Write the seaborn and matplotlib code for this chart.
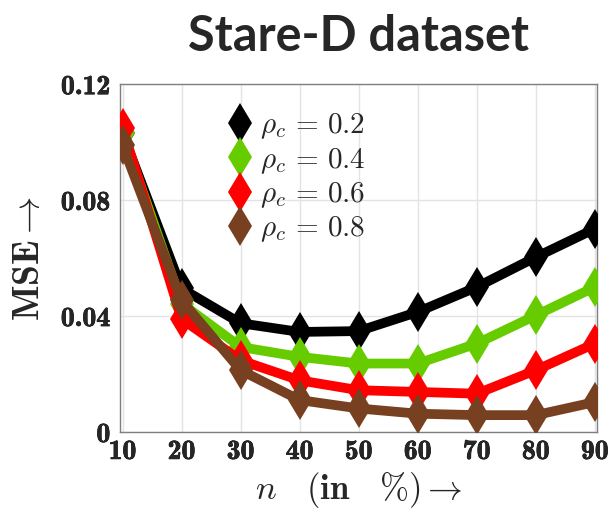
import os
import numpy as np
import pandas as pd
import matplotlib
matplotlib.use("Agg")
import matplotlib.pyplot as plt
import matplotlib.patheffects as pe
from matplotlib.font_manager import FontProperties
from matplotlib.lines import Line2D
import seaborn as sns

# data
n_values = [10, 20, 30, 40, 50, 60, 70, 80, 90]
rho_labels = ["0.2", "0.4", "0.6", "0.8"]
mse_rho02 = [0.103, 0.0495, 0.0375, 0.0345, 0.0348, 0.0414, 0.0500, 0.0603, 0.0701]
mse_rho04 = [0.103, 0.0443, 0.0293, 0.0259, 0.0236, 0.0236, 0.0305, 0.0402, 0.0500]
mse_rho06 = [0.105, 0.0390, 0.0247, 0.0178, 0.0144, 0.0138, 0.0132, 0.0213, 0.0305]
mse_rho08 = [0.0989, 0.0454, 0.0213, 0.0110, 0.0081, 0.0063, 0.0058, 0.0058, 0.0103]
colors = ["#000000", "#66CC00", "#FF0000", "#774020"]

y_ticks = [0, 0.04, 0.08, 0.12]
y_tick_labels = ["0", "0.04", "0.08", "0.12"]

df = pd.DataFrame({
    "n": n_values * 4,
    "mse": mse_rho02 + mse_rho04 + mse_rho06 + mse_rho08,
    "rho": sum([[r] * len(n_values) for r in rho_labels], []),
})

sns.set_style("whitegrid")
plt.rcParams["mathtext.fontset"] = "cm"

cmb = os.path.join(matplotlib.get_data_path(), "fonts", "ttf", "cmb10.ttf")
tick_font = FontProperties(fname=cmb, size=20)
thick = [pe.withStroke(linewidth=0.5, foreground="black")]

fig = plt.figure(figsize=(6.1, 5.13), dpi=100)
ax = fig.add_axes([0.197, 0.158, 0.782, 0.678])

sns.lineplot(
    data=df, x="n", y="mse", hue="rho", palette=colors, ax=ax,
    marker="d", markersize=20, markeredgewidth=0, linewidth=7,
    legend=False, zorder=3,
)

ax.set_xlim(9.6, 90.4)
ax.set_ylim(0, 0.12)
ax.set_xticks(n_values)
ax.set_xticklabels([str(v) for v in n_values])
ax.set_yticks(y_ticks)
ax.set_yticklabels(y_tick_labels)
for lab in ax.get_xticklabels() + ax.get_yticklabels():
    lab.set_fontproperties(tick_font)
    lab.set_path_effects(thick)
ax.tick_params(axis="both", length=4, color="#555555", direction="in")
ax.tick_params(axis="x", pad=5)
ax.tick_params(axis="y", pad=7)

ax.grid(True, color="#e3e3e3", linewidth=1)
for sp in ax.spines.values():
    sp.set_color("#7f7f7f")
    sp.set_linewidth(1)

ax.set_xlabel(r"$n\ \ \ (\mathbf{in}\ \ \ \mathbf{\%})\rightarrow$", fontsize=25, labelpad=4)
ax.set_ylabel(r"$\mathbf{MSE}\rightarrow$", fontsize=27, labelpad=10)
ax.set_title("Stare-D dataset", fontsize=35, fontweight="bold", family="Lato", pad=24)

handles = [Line2D([], [], linestyle="none", marker="d", markersize=20,
                  markeredgewidth=0, color=c) for c in colors]
labels = [r"$\rho_c\,=\,%s$" % r for r in rho_labels]
ax.legend(handles, labels, loc="upper left", bbox_to_anchor=(0.19, 0.955),
          frameon=False, fontsize=21, handletextpad=0.1, labelspacing=0.15,
          borderaxespad=0, handlelength=1.2)

plt.savefig("out.png", dpi=100)
plt.close()
